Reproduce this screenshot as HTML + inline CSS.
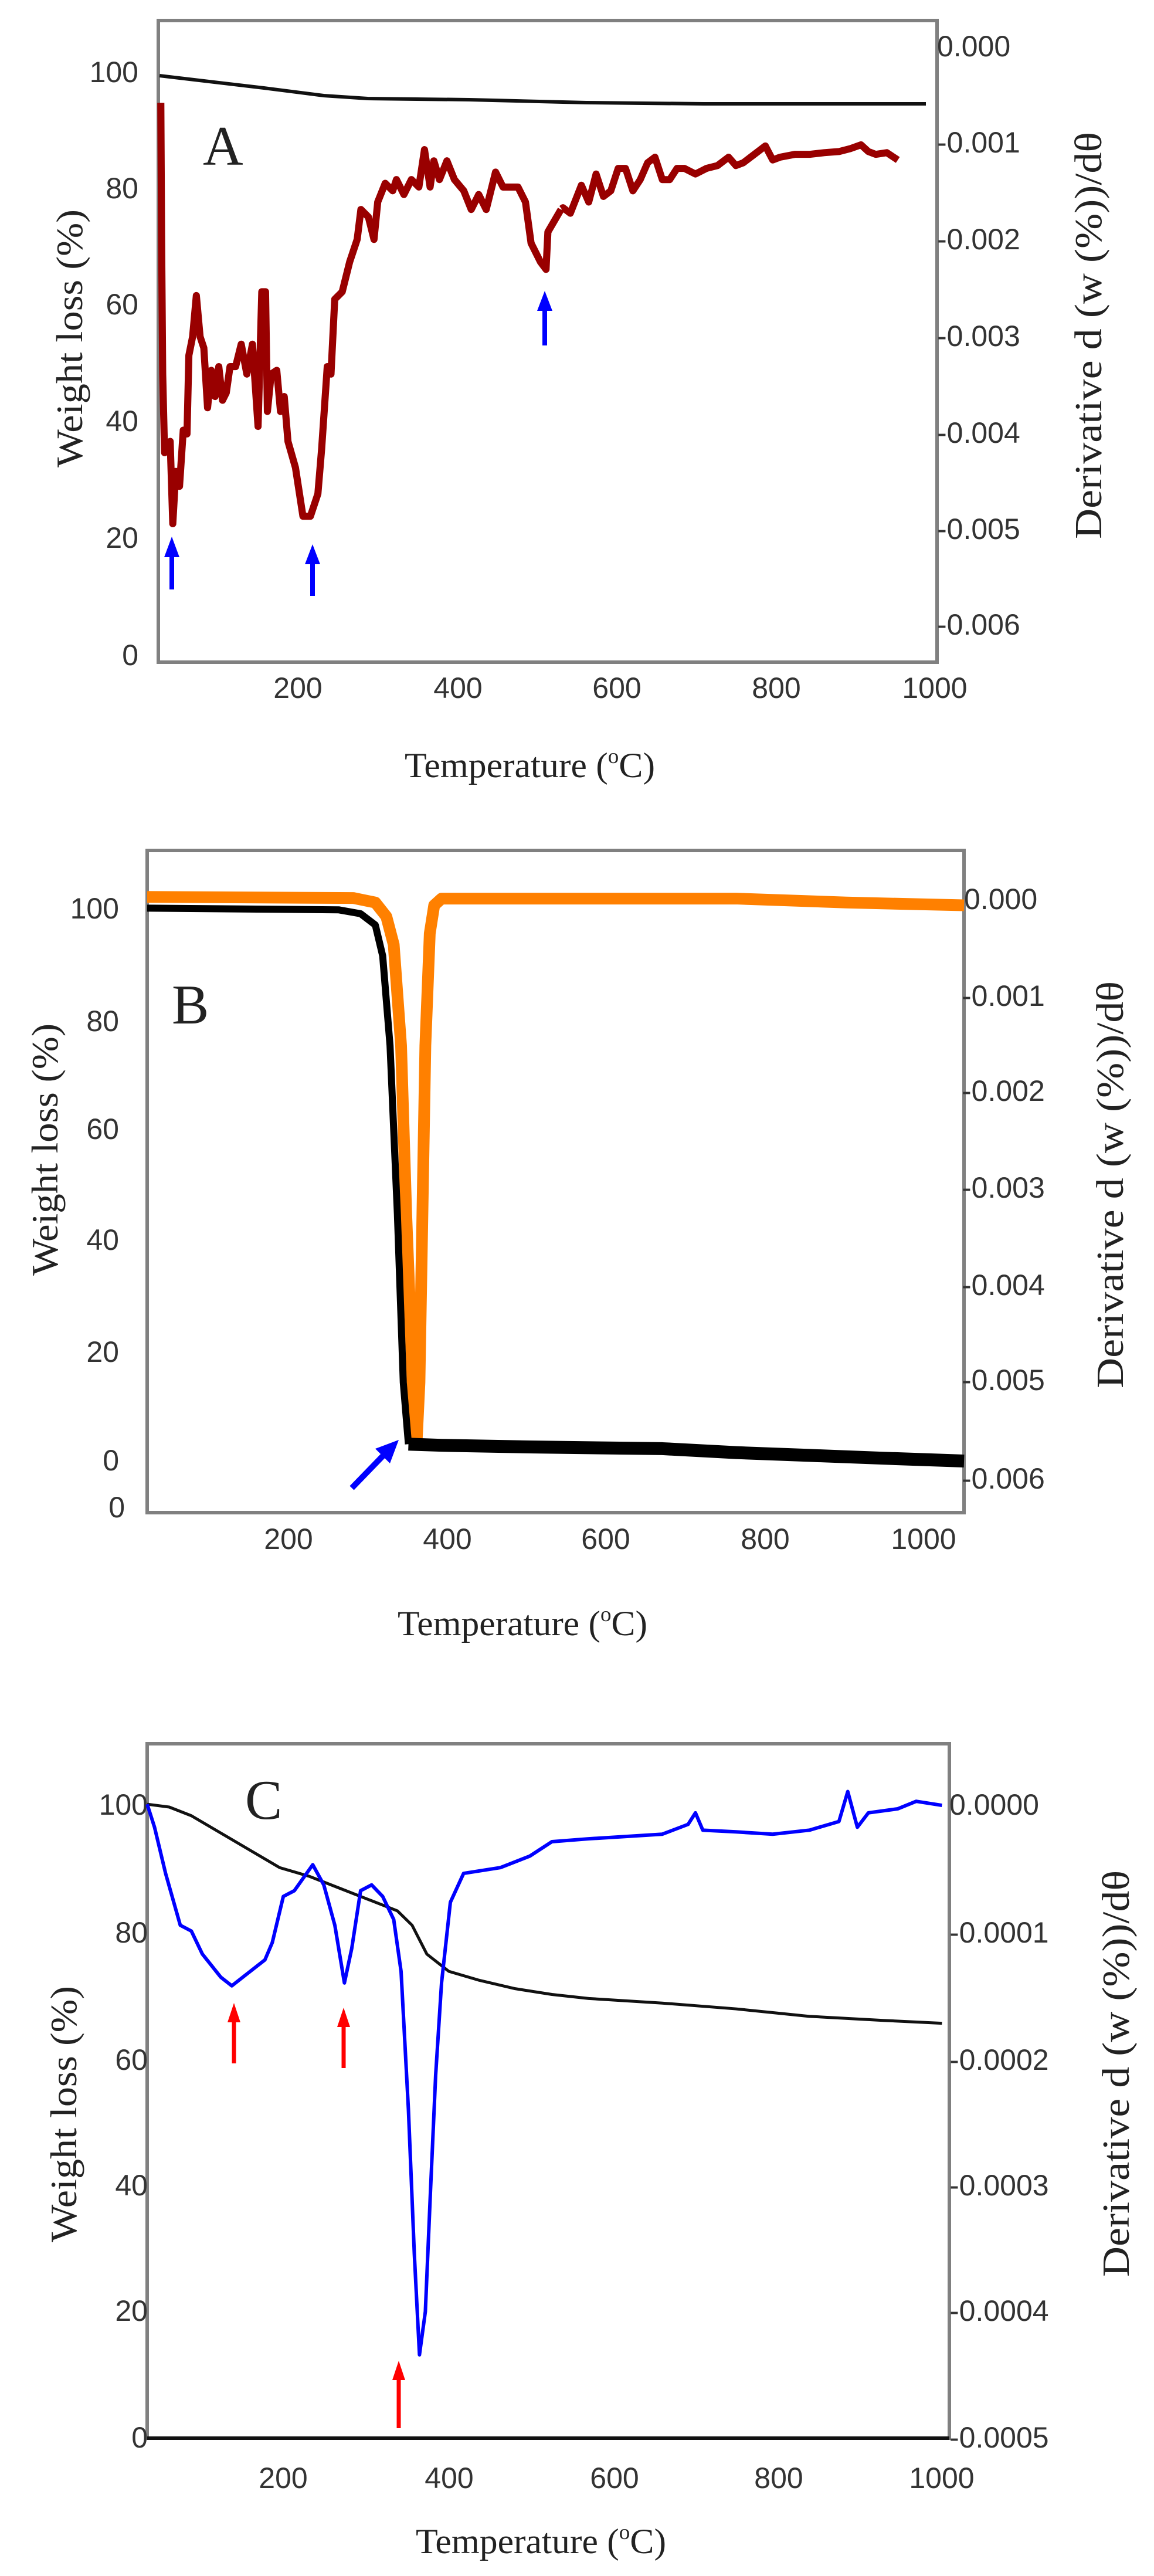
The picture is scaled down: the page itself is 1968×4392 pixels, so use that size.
<!DOCTYPE html>
<html><head><meta charset="utf-8"><style>
html,body{margin:0;padding:0;background:#fff;}
svg{display:block;}
.t{font-family:"Liberation Sans",sans-serif;font-size:50px;fill:#333;}
.s{font-family:"Liberation Serif",serif;fill:#222;}
</style></head><body>
<svg width="1968" height="4392" viewBox="0 0 1968 4392" xmlns="http://www.w3.org/2000/svg">
<rect width="1968" height="4392" fill="#fff"/>

<!-- ========== PANEL A ========== -->
<rect x="270" y="35" width="1328" height="1094" fill="none" stroke="#808080" stroke-width="6"/>
<g class="t" text-anchor="end">
<text x="236" y="140">100</text><text x="236" y="338">80</text><text x="236" y="536">60</text>
<text x="236" y="735">40</text><text x="236" y="934">20</text><text x="236" y="1134">0</text>
</g>
<g class="t">
<text x="1598" y="96">0.000</text><text x="1598" y="260">-0.001</text><text x="1598" y="425">-0.002</text>
<text x="1598" y="590">-0.003</text><text x="1598" y="755">-0.004</text><text x="1598" y="919">-0.005</text>
<text x="1598" y="1082">-0.006</text>
</g>
<g class="t" text-anchor="middle">
<text x="508" y="1190">200</text><text x="781" y="1190">400</text><text x="1052" y="1190">600</text>
<text x="1324" y="1190">800</text><text x="1594" y="1190">1000</text>
</g>
<text class="s" x="690" y="1325" font-size="60" textLength="427" lengthAdjust="spacingAndGlyphs">Temperature (<tspan font-size="36" dy="-24">o</tspan><tspan dy="24">C)</tspan></text>
<text class="s" transform="translate(140,797) rotate(-90)" font-size="64" textLength="440" lengthAdjust="spacingAndGlyphs">Weight loss (%)</text>
<text class="s" transform="translate(1878,919) rotate(-90)" font-size="66" textLength="694" lengthAdjust="spacingAndGlyphs">Derivative d (w (%))/dθ</text>
<text class="s" x="346" y="281" font-size="95" fill="#000">A</text>
<polyline fill="none" stroke="#111" stroke-width="6" points="272,129 450,150 552,163 627,168 800,170 1000,175 1200,177 1579,177"/>
<g transform="scale(0.6378)">
<polyline fill="none" stroke="#990000" stroke-width="19" stroke-linejoin="round" points="430,275 432,630 435,1000 440,1210 455,1180 462,1400 470,1260 480,1300 490,1150 500,1160 505,950 515,900 525,790 535,900 545,930 555,1090 565,990 575,1060 585,980 595,1070 605,1050 615,980 630,980 645,920 660,1000 675,920 690,1140 700,780 710,780 715,1100 725,1000 740,990 750,1100 760,1060 770,1180 790,1250 810,1380 830,1380 850,1320 860,1200 875,980 885,1000 895,800 915,780 935,700 955,640 965,560 985,580 1000,640 1010,540 1030,490 1050,510 1060,480 1080,520 1100,480 1120,500 1135,400 1150,500 1160,430 1175,480 1195,430 1215,480 1240,510 1260,560 1280,520 1300,560 1325,460 1345,500 1385,500 1405,540 1420,650 1445,700 1460,720 1465,620 1500,560"/>
</g>
<g transform="scale(1.255,0.957)">
<polyline fill="none" stroke="#990000" stroke-width="12" vector-effect="non-scaling-stroke" stroke-linejoin="round" points="763,372 765,370 775,380 790,330 800,360 810,310 820,350 830,340 840,300 850,300 860,340 870,320 880,290 890,280 900,320 910,320 920,300 930,300 945,310 960,300 975,295 990,280 1000,295 1010,290 1025,275 1040,260 1050,285 1060,280 1080,275 1100,275 1120,272 1140,270 1155,265 1170,258 1180,270 1190,275 1205,272 1220,285"/>
</g>
<g fill="#0000ff" stroke="#0000ff">
<line x1="293" y1="940" x2="293" y2="1005" stroke-width="8"/><polygon points="293,915 280,950 306,950" stroke="none"/>
<line x1="533" y1="952" x2="533" y2="1016" stroke-width="8"/><polygon points="533,928 520,962 546,962" stroke="none"/>
<line x1="929" y1="520" x2="929" y2="589" stroke-width="8"/><polygon points="929,496 916,530 942,530" stroke="none"/>
</g>

<!-- ========== PANEL B ========== -->
<rect x="251" y="1450" width="1393" height="1129" fill="none" stroke="#808080" stroke-width="6"/>
<g class="t" text-anchor="end">
<text x="203" y="1566">100</text><text x="203" y="1758">80</text><text x="203" y="1942">60</text>
<text x="203" y="2131">40</text><text x="203" y="2322">20</text><text x="203" y="2507">0</text><text x="213" y="2587">0</text>
</g>
<g class="t">
<text x="1644" y="1550">0.000</text><text x="1640" y="1715">-0.001</text><text x="1640" y="1877">-0.002</text>
<text x="1640" y="2042">-0.003</text><text x="1640" y="2208">-0.004</text><text x="1640" y="2370">-0.005</text>
<text x="1640" y="2538">-0.006</text>
</g>
<g class="t" text-anchor="middle">
<text x="492" y="2641">200</text><text x="763" y="2641">400</text><text x="1033" y="2641">600</text>
<text x="1305" y="2641">800</text><text x="1575" y="2641">1000</text>
</g>
<text class="s" x="678" y="2788" font-size="60" textLength="426" lengthAdjust="spacingAndGlyphs">Temperature (<tspan font-size="36" dy="-24">o</tspan><tspan dy="24">C)</tspan></text>
<text class="s" transform="translate(98,2175) rotate(-90)" font-size="64" textLength="430" lengthAdjust="spacingAndGlyphs">Weight loss (%)</text>
<text class="s" transform="translate(1915,2367) rotate(-90)" font-size="66" textLength="694" lengthAdjust="spacingAndGlyphs">Derivative d (w (%))/dθ</text>
<text class="s" x="293" y="1745" font-size="95" fill="#000">B</text>
<g transform="translate(0,1400) scale(1.255,0.957)">
<polyline fill="none" stroke="#ff8000" stroke-width="20" vector-effect="non-scaling-stroke" stroke-linejoin="round" points="200,135 480,137 510,145 525,170 535,220 545,400 552,700 558,900 562,1050 566,1110 570,1000 574,700 578,400 584,200 590,150 600,138 1000,138 1150,145 1310,150"/>
<polyline fill="none" stroke="#000" stroke-width="12" vector-effect="non-scaling-stroke" stroke-linejoin="round" points="200,155 460,158 490,165 510,185 520,240 530,400 540,700 548,1000 555,1110"/>
<polyline fill="none" stroke="#000" stroke-width="22" vector-effect="non-scaling-stroke" stroke-linejoin="round" points="555,1110 600,1112 720,1115 900,1118 1000,1125 1100,1130 1200,1135 1310,1140"/>
</g>
<g fill="#0000ff">
<line x1="600" y1="2537" x2="660" y2="2475" stroke="#0000ff" stroke-width="10"/>
<polygon points="680,2455 640,2470 665,2495"/>
</g>

<!-- ========== PANEL C ========== -->
<rect x="251" y="2973" width="1368" height="1184" fill="none" stroke="#808080" stroke-width="6"/>
<line x1="251" y1="4157" x2="1619" y2="4157" stroke="#111" stroke-width="6"/>
<g class="t" text-anchor="end">
<text x="252" y="3094">100</text><text x="252" y="3312">80</text><text x="252" y="3529">60</text>
<text x="252" y="3743">40</text><text x="252" y="3957">20</text><text x="252" y="4173">0</text>
</g>
<g class="t">
<text x="1619" y="3094">0.0000</text><text x="1619" y="3312">-0.0001</text><text x="1619" y="3529">-0.0002</text>
<text x="1619" y="3743">-0.0003</text><text x="1619" y="3957">-0.0004</text><text x="1619" y="4173">-0.0005</text>
</g>
<g class="t" text-anchor="middle">
<text x="483" y="4242">200</text><text x="766" y="4242">400</text><text x="1048" y="4242">600</text>
<text x="1328" y="4242">800</text><text x="1606" y="4242">1000</text>
</g>
<text class="s" x="709" y="4353" font-size="60" textLength="427" lengthAdjust="spacingAndGlyphs">Temperature (<tspan font-size="36" dy="-24">o</tspan><tspan dy="24">C)</tspan></text>
<text class="s" transform="translate(130,3823) rotate(-90)" font-size="64" textLength="437" lengthAdjust="spacingAndGlyphs">Weight loss (%)</text>
<text class="s" transform="translate(1925,3882) rotate(-90)" font-size="66" textLength="693" lengthAdjust="spacingAndGlyphs">Derivative d (w (%))/dθ</text>
<text class="s" x="418" y="3101" font-size="95" fill="#000">C</text>
<g transform="translate(0,2850) scale(1.255,0.983)">
<polyline fill="none" stroke="#111" stroke-width="5" vector-effect="non-scaling-stroke" stroke-linejoin="round" points="200,230 230,235 260,250 300,280 340,310 380,340 420,355 460,375 500,395 540,415 560,440 580,490 610,520 650,535 700,550 750,560 800,567 900,575 1000,585 1100,598 1200,605 1280,610"/>
<polyline fill="none" stroke="#0000ff" stroke-width="6" vector-effect="non-scaling-stroke" stroke-linejoin="round" points="200,230 210,270 225,350 245,440 260,450 275,490 300,530 315,545 335,525 360,500 370,470 385,390 400,380 425,335 440,370 455,440 468,540 478,480 490,380 505,370 520,390 535,430 545,520 555,760 563,1010 570,1185 578,1110 585,900 592,700 600,540 612,400 630,350 680,340 720,320 750,295 800,290 900,282 935,265 945,245 955,275 1000,278 1050,282 1100,275 1140,260 1152,208 1165,270 1180,245 1220,238 1245,225 1280,232"/>
</g>
<g fill="#ff0000" stroke="#ff0000">
<line x1="399" y1="3440" x2="399" y2="3518" stroke-width="7"/><polygon points="399,3415 388,3448 410,3448" stroke="none"/>
<line x1="586" y1="3448" x2="586" y2="3526" stroke-width="7"/><polygon points="586,3423 575,3456 597,3456" stroke="none"/>
<line x1="680" y1="4050" x2="680" y2="4140" stroke-width="7"/><polygon points="680,4025 669,4058 691,4058" stroke="none"/>
</g>
</svg>
</body></html>
